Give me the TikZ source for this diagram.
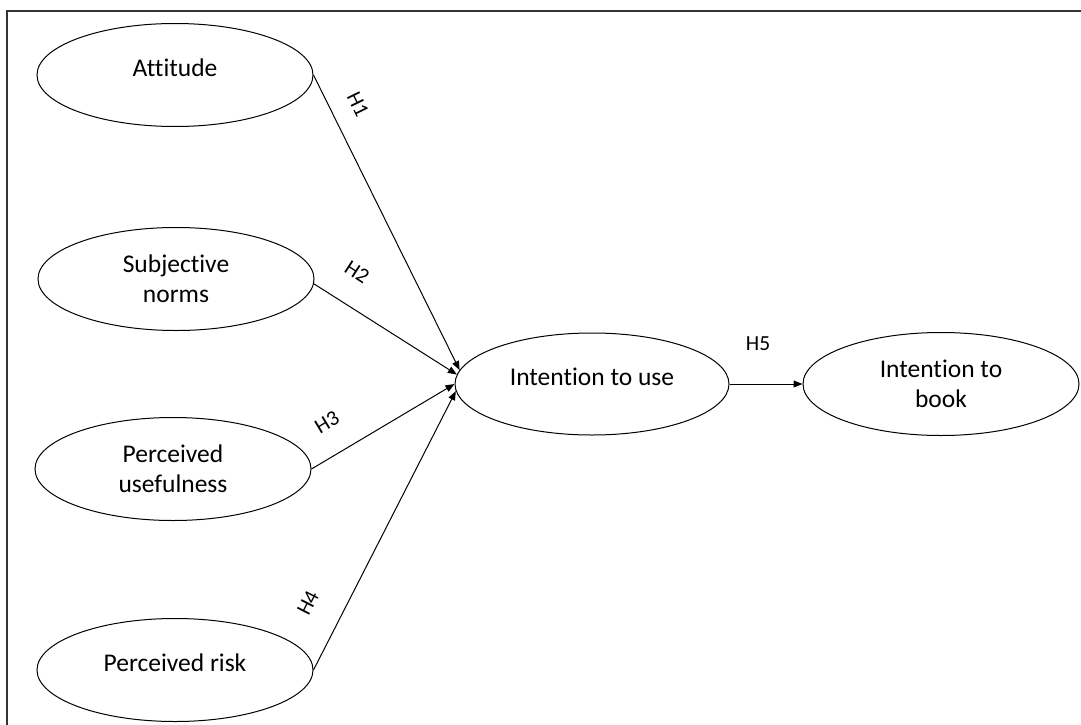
\documentclass[tikz,border=0pt]{standalone}
\usepackage{fontspec}
\setmainfont{Carlito}[Ligatures={NoCommon}]
\usetikzlibrary{arrows.meta,shapes.geometric}
\begin{document}
\begin{tikzpicture}[x=1pt,y=-1pt,
  construct/.style={draw, ellipse, line width=1pt, minimum width=276pt, minimum height=103pt,
    inner sep=0pt, align=center, font=\fontsize{25.5}{30}\selectfont},
  hyp/.style={-{Triangle[length=9pt,width=7pt]}, line width=1pt},
  hlabel/.style={font=\fontsize{21.5}{24}\selectfont, inner sep=0pt},
  frameline/.style={line width=1.5pt, draw=black!80}]
\useasboundingbox (0,0) rectangle (1081,725);
\draw[frameline] (7,726) -- (7,11) -- (1082,11);

\node[construct] (att) at (175,75) {\raisebox{7pt}[\height][\depth]{Attitude}};
\node[construct] (sn)  at (176,279) {Subjective\\norms};
\node[construct] (pu)  at (173,469) {Perceived\\usefulness};
\node[construct] (pr)  at (175,670) {\raisebox{7pt}[\height][\depth]{Perceived risk}};
\node[construct, minimum width=274pt, minimum height=102pt] (use) at (592,384) {\raisebox{7pt}[\height][\depth]{Intention to use}};
\node[construct] (book) at (941,384) {Intention to\\book};

\draw[hyp] (att.east) -- (use.174);
\draw[hyp] (sn.-2) -- (use.176);
\draw[hyp] (pu.east) -- (use.180);
\draw[hyp] (pr.east) -- (use.183);
\draw[hyp] (use.east) -- (book.west);

\node[hlabel, rotate=-64] (h1) at (358,104) {H1};
\node[hlabel, rotate=-33] (h2) at (357,272) {H2};
\node[hlabel, rotate=31] (h3) at (327,422) {H3};
\node[hlabel, rotate=63] (h4) at (308,603) {H4};
\node[hlabel] (h5) at (758,344) {H5};
\end{tikzpicture}
\end{document}
